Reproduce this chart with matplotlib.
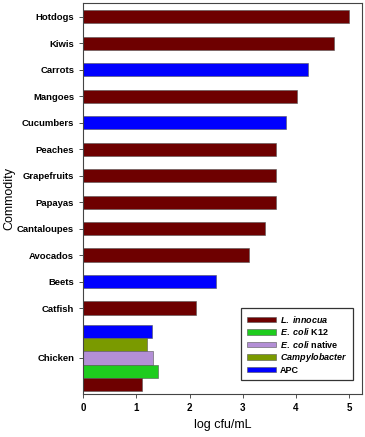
import matplotlib
matplotlib.use("Agg")
import matplotlib.pyplot as plt
from matplotlib.patches import Patch
import numpy as np

plt.rcParams['font.family'] = ['Liberation Sans', 'DejaVu Sans']
plt.rcParams['mathtext.fontset'] = 'custom'
plt.rcParams['mathtext.it'] = 'Liberation Sans:italic:bold'
plt.rcParams['mathtext.rm'] = 'Liberation Sans:bold'

commodities = ["Hotdogs", "Kiwis", "Carrots", "Mangoes", "Cucumbers", "Peaches",
               "Grapefruits", "Papayas", "Cantaloupes", "Avocados", "Beets", "Catfish"]
values = [5.0, 4.71, 4.22, 4.01, 3.81, 3.62, 3.62, 3.62, 3.41, 3.11, 2.5, 2.11]
organism = ["L", "L", "APC", "L", "APC", "L", "L", "L", "L", "L", "APC", "L"]

chicken_series = ["APC", "Campylobacter", "E. coli native", "E. coli K12", "L. innocua"]
chicken_values = [1.30, 1.20, 1.31, 1.40, 1.10]

colors = {"L": "#6E0000", "APC": "#0000FF", "K12": "#1ECC1E",
          "native": "#B38FD6", "Campy": "#7A9A00"}
chicken_colors = [colors["APC"], colors["Campy"], colors["native"], colors["K12"], colors["L"]]

fig = plt.figure(figsize=(3.65, 4.37), dpi=100)
ax = fig.add_axes([0.228, 0.098, 0.764, 0.894])

ypos = np.arange(len(commodities))
ax.barh(ypos, values, height=0.5, color=[colors[o] for o in organism],
        edgecolor="#555555", linewidth=0.4)

chicken_center = len(commodities) - 1 + 1.88
offsets = np.array([-1.0, -0.5, 0.0, 0.5, 1.0])
ax.barh(chicken_center + offsets, chicken_values, height=0.5, color=chicken_colors,
        edgecolor="#555555", linewidth=0.4)

ax.set_yticks(list(ypos) + [chicken_center])
ax.set_yticklabels(commodities + ["Chicken"], fontsize=6.8, fontweight="bold")
ax.set_ylim(chicken_center + 1.37, -0.5)
ax.set_xlim(0, 5.24)
ax.set_xticks([0, 1, 2, 3, 4, 5])
ax.set_xticklabels(["0", "1", "2", "3", "4", "5"], fontsize=7, fontweight="bold")
ax.tick_params(axis="both", length=3, width=0.6, color="#333333")

for s in ax.spines.values():
    s.set_linewidth(0.8)
    s.set_color("#444444")

narrow = ['Liberation Sans Narrow', 'Liberation Sans', 'DejaVu Sans']
ax.set_xlabel("log cfu/mL", fontsize=9, family=narrow, labelpad=4)
ax.set_ylabel("Commodity", fontsize=9, family=narrow)
ax.yaxis.set_label_coords(-0.243, 0.5)

handles = [Patch(facecolor=colors["L"], edgecolor="#555555", linewidth=0.4),
           Patch(facecolor=colors["K12"], edgecolor="#555555", linewidth=0.4),
           Patch(facecolor=colors["native"], edgecolor="#555555", linewidth=0.4),
           Patch(facecolor=colors["Campy"], edgecolor="#555555", linewidth=0.4),
           Patch(facecolor=colors["APC"], edgecolor="#555555", linewidth=0.4)]
labels = [r"$\mathit{L.\ innocua}$", r"$\mathit{E.\ coli}$ K12", r"$\mathit{E.\ coli}$ native",
          r"$\mathit{Campylobacter}$", "APC"]
leg = ax.legend(handles, labels, loc="lower right", bbox_to_anchor=(0.967, 0.036),
                prop={"size": 6.5, "weight": "bold"}, frameon=True, fancybox=False,
                edgecolor="black", handlelength=3.3, handleheight=0.55,
                labelspacing=0.16, borderpad=0.6, handletextpad=0.4, borderaxespad=0)
leg.get_frame().set_linewidth(0.9)

fig.savefig("out.png", dpi=100)
